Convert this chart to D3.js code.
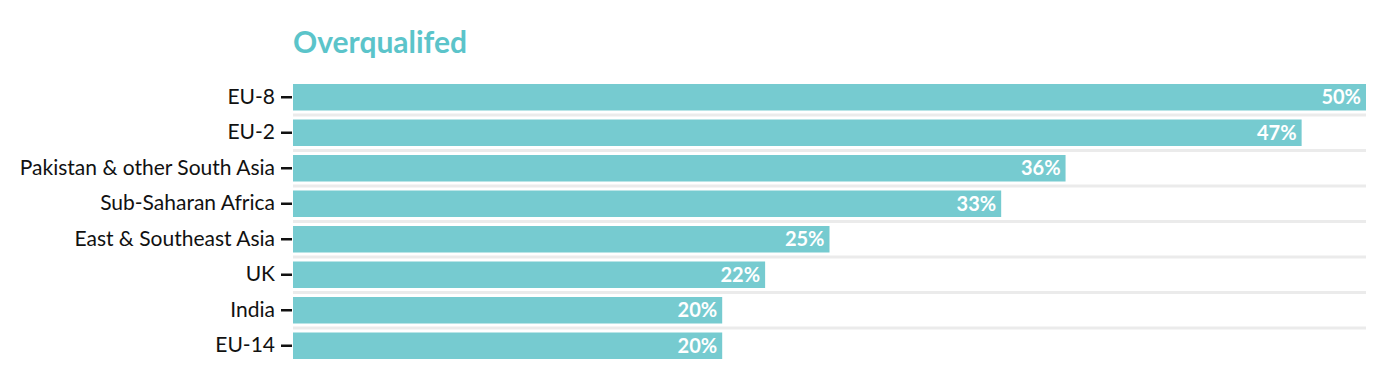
<!DOCTYPE html>
<html>
<head>
<meta charset="utf-8">
<script src="https://cdn.jsdelivr.net/npm/d3@7"></script>
<style>
  body { margin: 0; background: #fff; }
  svg text { font-family: Lato, "Noto Sans", sans-serif; }
</style>
</head>
<body>
<svg id="chart" width="1400" height="392"></svg>
<script>
// data
const categories = ["EU-8", "EU-2", "Pakistan & other South Asia", "Sub-Saharan Africa",
  "East & Southeast Asia", "UK", "India", "EU-14"];
const values = [0.50, 0.47, 0.36, 0.33, 0.25, 0.22, 0.20, 0.20];
const title = "Overqualifed";

const barColor = "#76cbd0";
const margin = { left: 293, right: 34, top: 84, bottom: 33 };
const W = 1400, H = 392;

const svg = d3.select("#chart");

const x = d3.scaleLinear().domain([0, 0.5]).range([margin.left, W - margin.right]);
const y = d3.scaleBand().domain(categories)
  .range([margin.top, 359]).paddingInner(0.2535).paddingOuter(0);

// grey separator lines below each row (not below the last)
svg.selectAll(".sep")
  .data(categories.slice(0, -1))
  .enter().append("rect")
  .attr("class", "sep")
  .attr("x", x(0))
  .attr("width", x(0.5) - x(0))
  .attr("y", d => y(d) + y.bandwidth() + 3)
  .attr("height", 3)
  .attr("fill", "#ebebeb");

svg.selectAll(".bar")
  .data(categories)
  .enter().append("rect")
  .attr("class", "bar")
  .attr("x", x(0))
  .attr("y", d => y(d))
  .attr("width", (d, i) => x(values[i]) - x(0))
  .attr("height", y.bandwidth())
  .attr("fill", barColor);

svg.selectAll(".val")
  .data(categories)
  .enter().append("text")
  .attr("class", "val")
  .attr("x", (d, i) => x(values[i]) - 5)
  .attr("y", d => y(d) + y.bandwidth() / 2)
  .attr("dy", "0.36em")
  .attr("text-anchor", "end")
  .attr("fill", "#fff")
  .attr("font-weight", "bold")
  .attr("font-size", 20)
  .text((d, i) => Math.round(values[i] * 100) + "%");

// y axis
const yAxis = svg.append("g")
  .attr("transform", `translate(${x(0)},0)`)
  .call(d3.axisLeft(y).tickSize(12).tickPadding(6));
yAxis.select(".domain").remove();
yAxis.selectAll(".tick line").attr("stroke", "#111").attr("stroke-width", 2.5).attr("x2", -12).attr("x1", -1);
yAxis.selectAll(".tick text")
  .attr("font-size", 21)
  .attr("fill", "#111")
  .style("font-family", "Lato, 'Noto Sans', sans-serif");

svg.append("text")
  .attr("x", margin.left)
  .attr("y", 53)
  .attr("fill", "#5bc4ca")
  .attr("font-weight", "bold")
  .attr("font-size", 30)
  .text(title);
</script>
</body>
</html>
